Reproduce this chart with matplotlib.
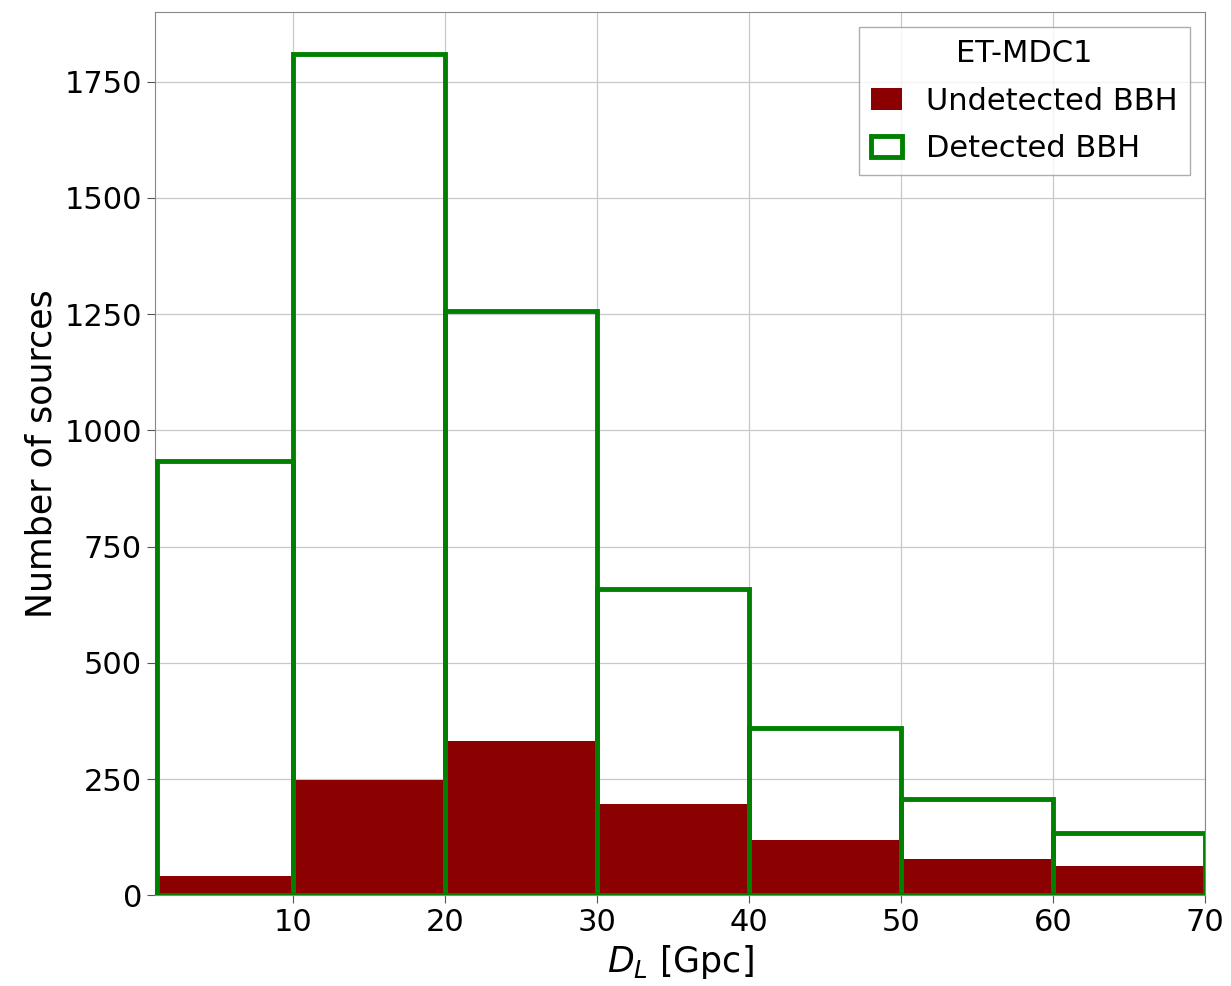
import numpy as np
import matplotlib.pyplot as plt

# bin edges in Gpc and counts
bin_edges = [1, 10, 20, 30, 40, 50, 60, 70]
detected = [933, 1810, 1256, 658, 359, 208, 133]
undetected = [41, 249, 331, 196, 118, 77, 64]

centers = [(a + b) / 2 for a, b in zip(bin_edges[:-1], bin_edges[1:])]

fig, ax = plt.subplots(figsize=(12.31, 9.86), dpi=100)
fig.subplots_adjust(left=0.126, right=0.979, top=0.988, bottom=0.092)

ax.hist(centers, bins=bin_edges, weights=undetected, color='darkred',
        label='Undetected BBH', zorder=2)
ax.hist(centers, bins=bin_edges, weights=detected, histtype='bar', fill=False,
        edgecolor='green', linewidth=3.5, label='Detected BBH', zorder=3)

ax.set_xlim(0.9, 70)
ax.set_ylim(0, 1900)
ax.set_xticks([10, 20, 30, 40, 50, 60, 70])
ax.grid(True, color='#c8c8c8', linewidth=0.9, zorder=0)
ax.set_axisbelow(True)
for s in ax.spines.values():
    s.set_color('#888888')
ax.tick_params(labelsize=22, color='#555555', length=6)
ax.set_xlabel(r'$D_L$ [Gpc]', fontsize=25)
ax.set_ylabel('Number of sources', fontsize=25)

leg = ax.legend(title='ET-MDC1', fontsize=22, title_fontsize=22,
                loc='upper right', fancybox=False, edgecolor='#999999',
                handlelength=1.0, labelspacing=0.6)

plt.savefig('out.png')
